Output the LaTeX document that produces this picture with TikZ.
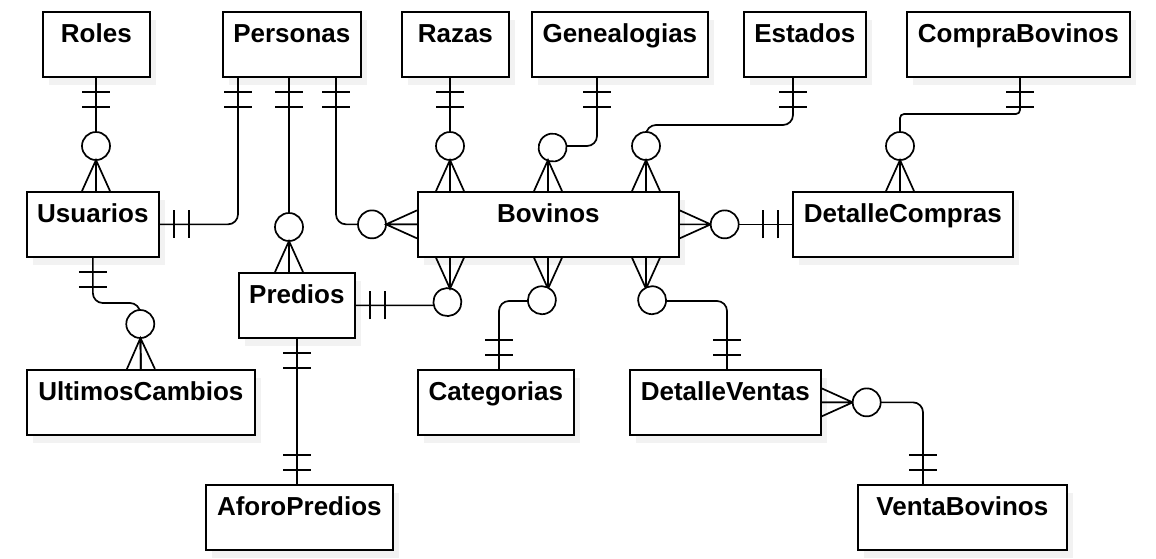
\documentclass[tikz,border=0pt]{standalone}
\usepackage{fontspec}
\setmainfont{Liberation Sans}
\usetikzlibrary{calc,decorations.markings,shadows}
\tikzstyle{entity}=[draw, fill=white, anchor=north west, font=\bfseries\fontsize{26}{30}\selectfont,
  inner xsep=0pt, inner ysep=0pt, text height=31pt, text depth=34pt,
  drop shadow={shadow xshift=6pt, shadow yshift=-8pt, fill=black!5, opacity=1}]
\tikzstyle{rel}=[rounded corners=10pt]
\tikzset{
  one start/.style={postaction={decorate, decoration={markings,
    mark=at position 14pt with {\draw[sharp corners] (0,-14pt) -- (0,14pt);},
    mark=at position 29pt with {\draw[sharp corners] (0,-14pt) -- (0,14pt);}}}},
  one end/.style={postaction={decorate, decoration={markings,
    mark=at position -29pt with {\draw[sharp corners] (0,-14pt) -- (0,14pt);},
    mark=at position -14pt with {\draw[sharp corners] (0,-14pt) -- (0,14pt);}}}},
  many start/.style={postaction={decorate, decoration={markings,
    mark=at position 31pt with {\draw[sharp corners] (-31pt,-14pt) -- (0,0) -- (-31pt,14pt) (-31pt,0) -- (0,0);},
    mark=at position 45pt with {\draw[fill=white] (0,0) circle (14pt);}}}},
  many end/.style={postaction={decorate, decoration={markings,
    mark=at position -45pt with {\draw[fill=white] (0,0) circle (14pt);},
    mark=at position -31pt with {\draw[sharp corners] (31pt,-14pt) -- (0,0) -- (31pt,14pt) (31pt,0) -- (0,0);}}}}
}

\begin{document}
\begin{tikzpicture}[x=1pt, y=-1pt, line width=1.7pt]
\fill[white] (0,0) rectangle (1156,558);
\useasboundingbox (0,0) rectangle (1156,558);

\node (roles)          [entity, minimum width=107pt] at (42,11)  {Roles};
\node (personas)       [entity, minimum width=138pt] at (222,11) {Personas};
\node (razas)          [entity, minimum width=107pt] at (401,11) {Razas};
\node (genealogias)    [entity, minimum width=176pt] at (531,11) {Genealogias};
\node (estados)        [entity, minimum width=122pt] at (743,11) {Estados};
\node (comprabovinos)  [entity, minimum width=223pt] at (906,11) {CompraBovinos};
\node (usuarios)       [entity, minimum width=132pt] at (26,191)  {Usuarios};
\node (bovinos)        [entity, minimum width=261pt] at (417,191) {Bovinos};
\node (detallecompras) [entity, minimum width=220pt] at (792,191) {DetalleCompras};
\node (predios)        [entity, minimum width=116pt] at (238,272) {Predios};
\node (ultimoscambios) [entity, minimum width=228pt] at (26,369)  {UltimosCambios};
\node (categorias)     [entity, minimum width=156pt] at (417,369) {Categorias};
\node (detalleventas)  [entity, minimum width=191pt] at (629,369) {DetalleVentas};
\node (aforopredios)   [entity, minimum width=187pt] at (205,484) {AforoPredios};
\node (ventabovinos)   [entity, minimum width=209pt] at (857,484) {VentaBovinos};

\draw [rel, one start, many end] (roles.south -| 96,0) -- (usuarios.north -| 96,0);
\draw [rel, one start, one end]  (personas.south -| 238,0) |- (usuarios.east);
\draw [rel, one start, many end] (personas.south -| 289,0) -- (predios.north -| 289,0);
\draw [rel, one start, many end] (personas.south -| 336,0) |- (bovinos.west);
\draw [rel, one start, many end] (razas.south -| 450,0) -- (bovinos.north -| 450,0);
\draw [rel, one start, many end] (genealogias.south -| 597,0) |- (548,146) -- (bovinos.north -| 548,0);
\draw [rel, one start, many end] (estados.south -| 793,0) |- (646,125) -- (bovinos.north -| 646,0);
\draw [rel, many start, one end] (bovinos.east) -- (detallecompras.west);
\draw [rounded corners=4pt, one start, many end] (comprabovinos.south -| 1020,0) |- (900,114) -- (detallecompras.north -| 900,0);
\draw [rel, one start, many end] (usuarios.south) |- (140,303) -- (ultimoscambios.north);
\draw [rel, one start, many end] (predios.east) -| (bovinos.south -| 450,0);
\draw [rel, one start, one end]  (predios.south -| 297,0) -- (aforopredios.north -| 297,0);
\draw [rel, many start, one end] (bovinos.south -| 548,0) |- (499,301) -- (categorias.north -| 499,0);
\draw [rel, many start, one end] (bovinos.south -| 646,0) |- (727,301) -- (detalleventas.north -| 727,0);
\draw [rel, many start, one end] (detalleventas.east) -| (ventabovinos.north -| 923,0);

\end{tikzpicture}
\end{document}
